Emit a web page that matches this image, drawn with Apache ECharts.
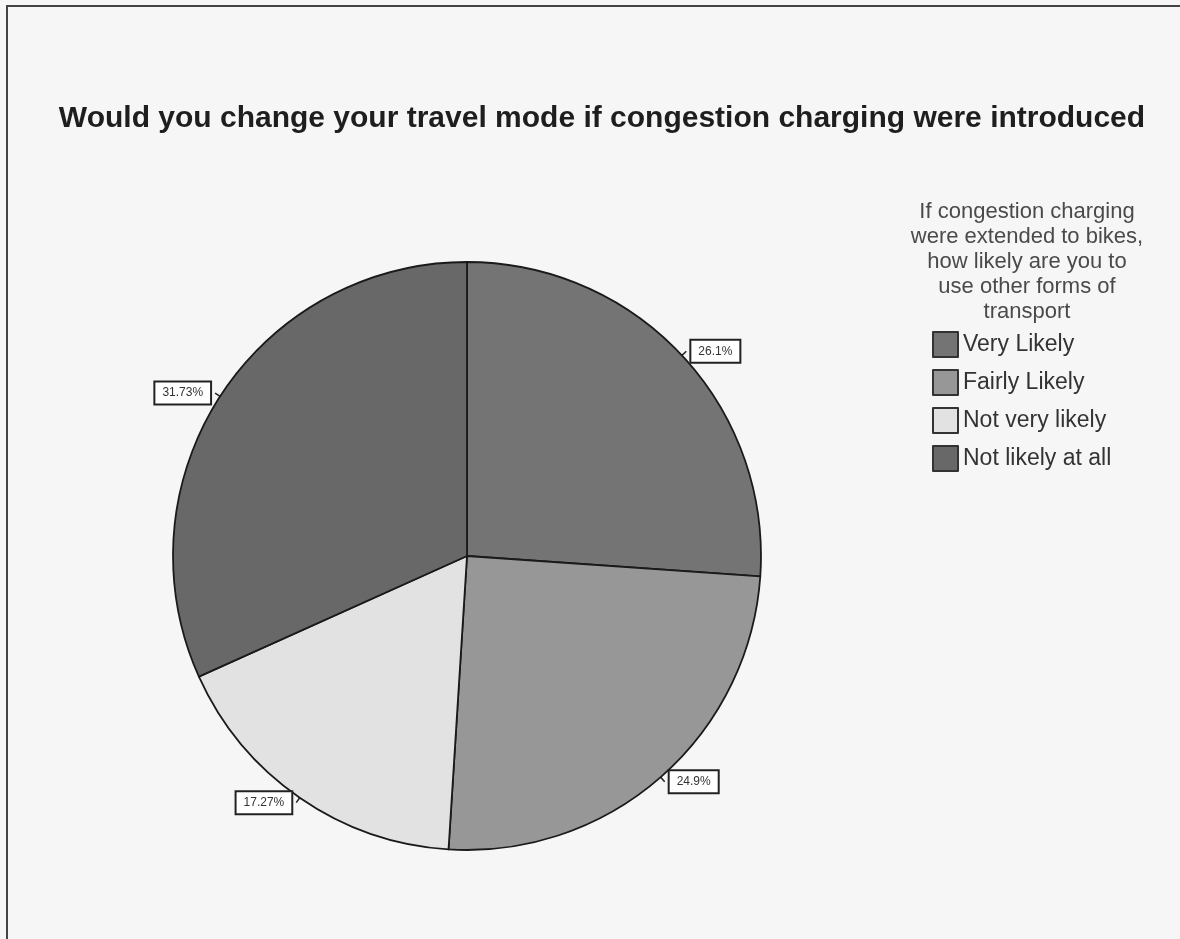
<!DOCTYPE html>
<html>
<head>
<meta charset="utf-8">
<script src="https://cdn.jsdelivr.net/npm/echarts@6/dist/echarts.min.js"></script>
<style>
  html, body { margin: 0; padding: 0; background: #f6f6f6; }
  #chart { width: 1180px; height: 939px; }
</style>
</head>
<body>
<div id="chart"></div>
<script>
// Survey answers, clockwise from 12 o'clock
const categories = ['Very Likely', 'Fairly Likely', 'Not very likely', 'Not likely at all'];
const percentages = [26.1, 24.9, 17.27, 31.73];
const sliceColors = ['#747474', '#979797', '#e2e2e2', '#686868'];

const chartTitle = 'Would you change your travel mode if congestion charging were introduced';
const legendTitle = 'If congestion charging\nwere extended to bikes,\nhow likely are you to\nuse other forms of\ntransport';

const chart = echarts.init(document.getElementById('chart'));

const option = {
  backgroundColor: '#f6f6f6',
  animation: false,
  title: [
    {
      text: chartTitle,
      left: 597,
      top: 99,
      textAlign: 'center',
      textStyle: {
        fontFamily: 'Liberation Sans, Arial, sans-serif',
        fontSize: 30,
        fontWeight: 'bold',
        color: '#1e1e1e'
      }
    },
    {
      text: legendTitle,
      left: 1022,
      top: 194,
      textAlign: 'center',
      textStyle: {
        fontFamily: 'Liberation Sans, Arial, sans-serif',
        fontSize: 22,
        fontWeight: 'normal',
        lineHeight: 25,
        color: '#4a4a4a'
      }
    }
  ],
  legend: {
    orient: 'vertical',
    left: 927,
    top: 326,
    icon: 'rect',
    itemWidth: 25,
    itemHeight: 25,
    itemGap: 11,
    data: categories,
    itemStyle: { borderColor: '#333', borderWidth: 2 },
    textStyle: {
      fontFamily: 'Liberation Sans, Arial, sans-serif',
      fontSize: 23,
      color: '#333',
      padding: [0, 0, 0, 0]
    }
  },
  graphic: [
    {
      type: 'rect',
      shape: { x: 7, y: 6, width: 1200, height: 960 },
      style: { fill: 'none', stroke: '#444', lineWidth: 2 },
      silent: true
    }
  ],
  series: [
    {
      type: 'pie',
      center: [467, 556],
      radius: 294,
      startAngle: 90,
      clockwise: true,
      avoidLabelOverlap: false,
      data: categories.map((name, i) => ({
        name,
        value: percentages[i],
        itemStyle: { color: sliceColors[i] }
      })),
      itemStyle: { borderColor: '#1a1a1a', borderWidth: 1.8 },
      label: {
        show: true,
        position: 'outside',
        formatter: p => p.value + '%',
        fontFamily: 'Liberation Sans, Arial, sans-serif',
        fontSize: 12,
        color: '#333',
        backgroundColor: '#ffffff',
        borderColor: '#222',
        borderWidth: 2,
        padding: [5, 7, 4, 7]
      },
      labelLine: {
        show: true,
        length: 6,
        length2: 0,
        lineStyle: { color: '#222', width: 1.5 }
      },
      emphasis: { disabled: true }
    }
  ]
};

chart.setOption(option);
</script>
</body>
</html>
